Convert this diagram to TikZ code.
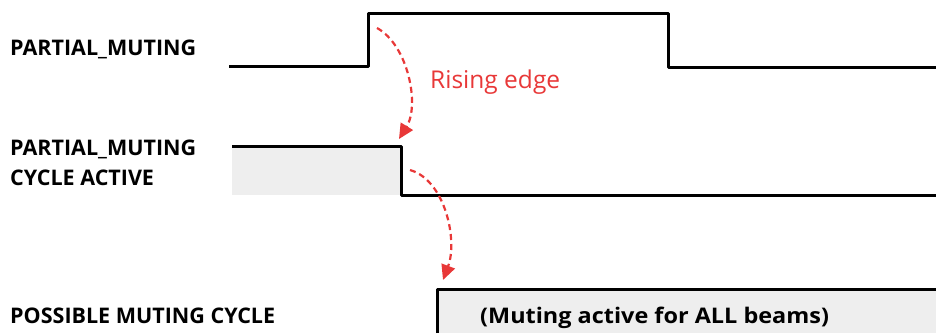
\documentclass[tikz,border=0pt]{standalone}
\usepackage{fontspec}
\setmainfont{Open Sans}
\newfontfamily\widebold[FakeStretch=1.09]{Open Sans}
\usetikzlibrary{arrows.meta}
\definecolor{edgered}{RGB}{232,56,56}
\definecolor{fillgray}{RGB}{238,238,238}
\tikzset{
  sig/.style={line width=3pt, line join=round, black},
  lbl/.style={font=\fontsize{21.5}{30}\selectfont\bfseries, anchor=base west, inner sep=0pt, align=left},
  redarrow/.style={edgered, line width=2.2pt, dash pattern=on 6pt off 4pt, -{Triangle[length=15pt,width=14pt]}},
}
\begin{document}
\begin{tikzpicture}[x=1pt,y=-1pt]
\useasboundingbox (0,0) rectangle (936,333);
% fills
\fill[fillgray] (232,146) rectangle (401,195);
\fill[fillgray] (437,289) rectangle (936,333);
% signals
\draw[sig] (229,66) -- (368,66) -- (368,13) -- (668,13) -- (668,67) -- (936,67);
\draw[sig] (232,146) -- (401,146) -- (401,195) -- (936,195);
\draw[sig] (437,333) -- (437,289) -- (936,289);
% labels
\node[lbl] (l1) at (10,55) {PARTIAL\_MUTING};
\node[lbl] (l2a) at (10,155) {PARTIAL\_MUTING};
\node[lbl] (l2b) at (10,185) {CYCLE ACTIVE};
\node[lbl] (l3) at (10,323) {POSSIBLE MUTING CYCLE};
\node[lbl, font=\fontsize{21.5}{30}\selectfont\widebold\bfseries] (l4) at (480,323) {(Muting active for ALL beams)};
\node[font=\fontsize{24.5}{28}\selectfont, text=edgered, anchor=base west, inner sep=0pt] (re) at (430,88) {Rising edge};
% arrows
\coordinate (a1s) at (377,28);
\coordinate (a1e) at (399,139);
\coordinate (a2s) at (410,170);
\coordinate (a2e) at (443,280);
\draw[redarrow] (a1s) .. controls (408,45) and (420,105) .. (a1e);
\draw[redarrow] (a2s) .. controls (445,180) and (458,240) .. (a2e);
\end{tikzpicture}
\end{document}
